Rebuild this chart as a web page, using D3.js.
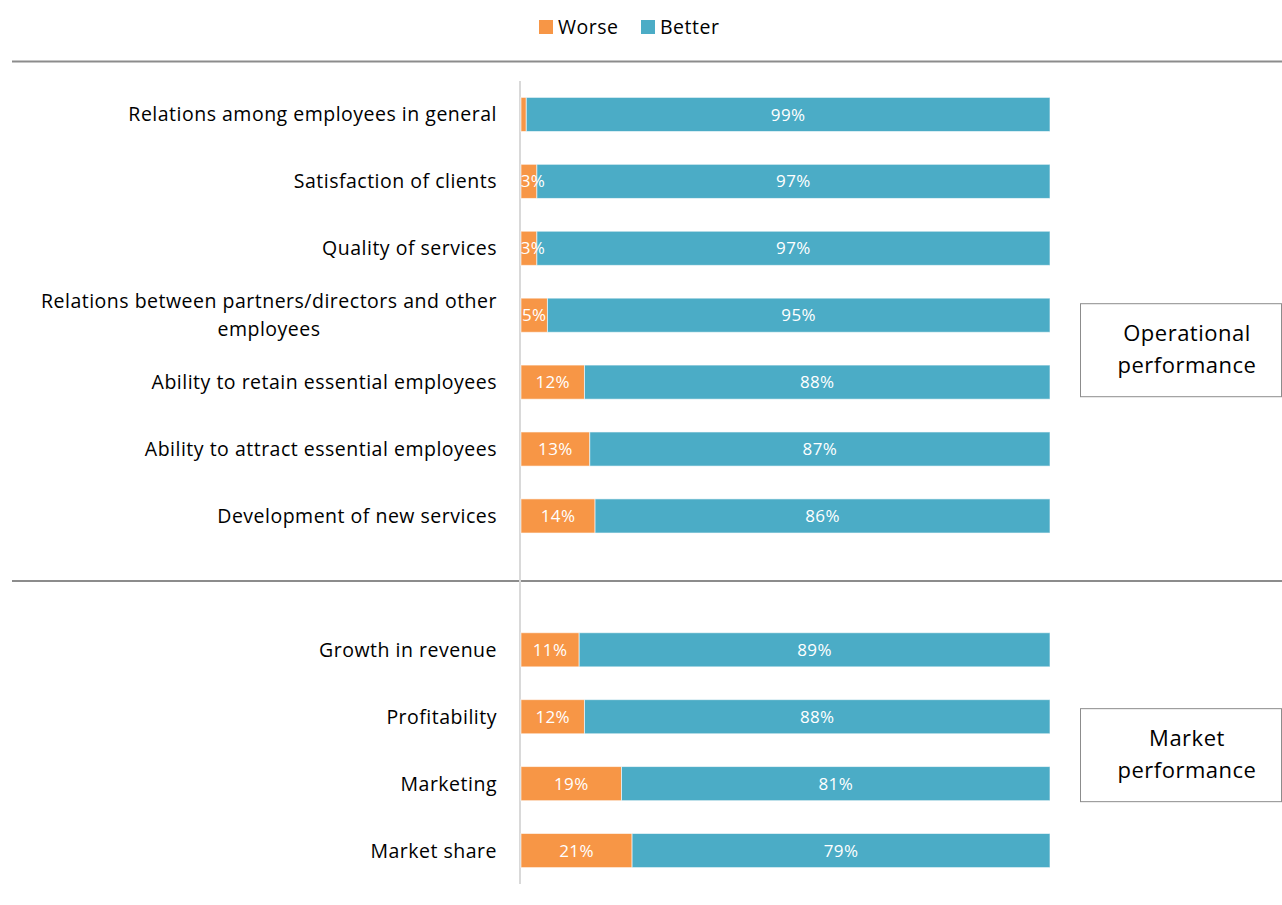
<!DOCTYPE html>
<style>
body { margin: 0; background: #fff; }
svg { font-family: "Open Sans", sans-serif; }
</style>
<svg width="1282" height="905"></svg>
<script src="https://d3js.org/d3.v7.min.js"></script>
<script>

var categories = [
  "Relations among employees in general",
  "Satisfaction of clients",
  "Quality of services",
  "Relations between partners/directors and other|employees",
  "Ability to retain essential employees",
  "Ability to attract essential employees",
  "Development of new services",
  "",
  "Growth in revenue",
  "Profitability",
  "Marketing",
  "Market share"
];
var worse  = [1, 3, 3, 5, 12, 13, 14, null, 11, 12, 19, 21];
var better = [99, 97, 97, 95, 88, 87, 86, null, 89, 88, 81, 79];
var seriesNames = ["Worse", "Better"];
var seriesColors = ["#f79646", "#4bacc6"];
var groups = [
  { name: ["Operational", "performance"], from: 0, to: 6 },
  { name: ["Market", "performance"], from: 8, to: 11 }
];

var svg = d3.select("svg"),
    width = +svg.attr("width"),
    height = +svg.attr("height");

var rows = categories.map(function(c, i) { return { key: "r" + i, label: c, worse: worse[i], better: better[i] }; });

var x = d3.scaleLinear().domain([0, 100]).range([521, 1050]);
var y = d3.scaleBand()
    .domain(rows.map(function(d) { return d.key; }))
    .range([81, 884])
    .paddingInner(0.49)
    .paddingOuter(0.245);

// legend
var legend = svg.append("g").attr("transform", "translate(539,20)");
var lx = [0, 102];
seriesNames.forEach(function(n, i) {
  var g = legend.append("g").attr("transform", "translate(" + lx[i] + ",0)");
  g.append("rect").attr("width", 14).attr("height", 14).attr("fill", seriesColors[i]);
  g.append("text").attr("x", 19).attr("y", 7).attr("dy", "0.36em")
      .attr("font-size", 19.5).attr("letter-spacing", 0.5).attr("fill", "#000").text(n);
});

// separators
var sepY = [y(rows[0].key) - 36, y(rows[7].key) + y.bandwidth() / 2 - 2];
svg.selectAll(".sep").data(sepY).enter().append("line")
    .attr("x1", 12).attr("x2", width)
    .attr("y1", function(d) { return d; }).attr("y2", function(d) { return d; })
    .attr("stroke", "#8c8c8c").attr("stroke-width", 2);

// axis line
svg.append("line")
    .attr("x1", x(0) - 1).attr("x2", x(0) - 1)
    .attr("y1", 81).attr("y2", 884)
    .attr("stroke", "#d9d9d9").attr("stroke-width", 2);

var data = rows.filter(function(d) { return d.worse != null; });

var row = svg.selectAll(".row").data(data).enter().append("g")
    .attr("transform", function(d) { return "translate(0," + y(d.key) + ")"; });

row.append("rect")
    .attr("x", x(0))
    .attr("width", function(d) { return x(d.worse) - x(0); })
    .attr("height", y.bandwidth())
    .attr("fill", seriesColors[0])
    .attr("stroke", "#fff").attr("stroke-opacity", 0.6).attr("stroke-width", 1);

row.append("rect")
    .attr("x", function(d) { return x(d.worse); })
    .attr("width", function(d) { return x(d.worse + d.better) - x(d.worse); })
    .attr("height", y.bandwidth())
    .attr("fill", seriesColors[1])
    .attr("stroke", "#fff").attr("stroke-opacity", 0.6).attr("stroke-width", 1);

row.filter(function(d) { return d.worse >= 2; }).append("text")
    .attr("x", function(d) { return Math.max((x(0) + x(d.worse)) / 2, x(0) + 12); })
    .attr("y", y.bandwidth() / 2).attr("dy", "0.36em")
    .attr("text-anchor", "middle").attr("font-size", 17).attr("letter-spacing", 0.4).attr("fill", "#fff")
    .text(function(d) { return d.worse + "%"; });

row.append("text")
    .attr("x", function(d) { return (x(d.worse) + x(100)) / 2; })
    .attr("y", y.bandwidth() / 2).attr("dy", "0.36em")
    .attr("text-anchor", "middle").attr("font-size", 17).attr("letter-spacing", 0.4).attr("fill", "#fff")
    .text(function(d) { return d.better + "%"; });

// category labels
row.each(function(d) {
  var lines = d.label.split("|");
  var t = d3.select(this).append("text")
      .attr("font-size", 19.5).attr("letter-spacing", 0.5).attr("fill", "#000");
  var cy = y.bandwidth() / 2 - (lines.length - 1) * 14;
  lines.forEach(function(l, i) {
    t.append("tspan").attr("y", cy + i * 28).attr("dy", "0.36em").text(l);
  });
  if (lines.length === 1) {
    t.attr("text-anchor", "end").selectAll("tspan").attr("x", 497);
  } else {
    var w = 0;
    t.selectAll("tspan").each(function() { w = Math.max(w, this.getComputedTextLength()); });
    t.attr("text-anchor", "middle").selectAll("tspan").attr("x", 497 - w / 2);
  }
});

// group boxes
groups.forEach(function(g, i) {
  var cy = (y(rows[g.from].key) + y(rows[g.to].key) + y.bandwidth()) / 2 + (i === 0 ? 35 : 5);
  var box = svg.append("g").attr("transform", "translate(1080," + (cy - 47) + ")");
  box.append("rect").attr("x", 0.5).attr("y", 0.5).attr("width", 201).attr("height", 93)
      .attr("fill", "#fff").attr("stroke", "#8c8c8c").attr("stroke-width", 1);
  var t = box.append("text").attr("text-anchor", "middle").attr("font-size", 22)
      .attr("letter-spacing", 0.5).attr("fill", "#000");
  g.name.forEach(function(n, j) {
    t.append("tspan").attr("x", 107).attr("y", 30 + j * 32).attr("dy", "0.36em").text(n);
  });
});

</script>
